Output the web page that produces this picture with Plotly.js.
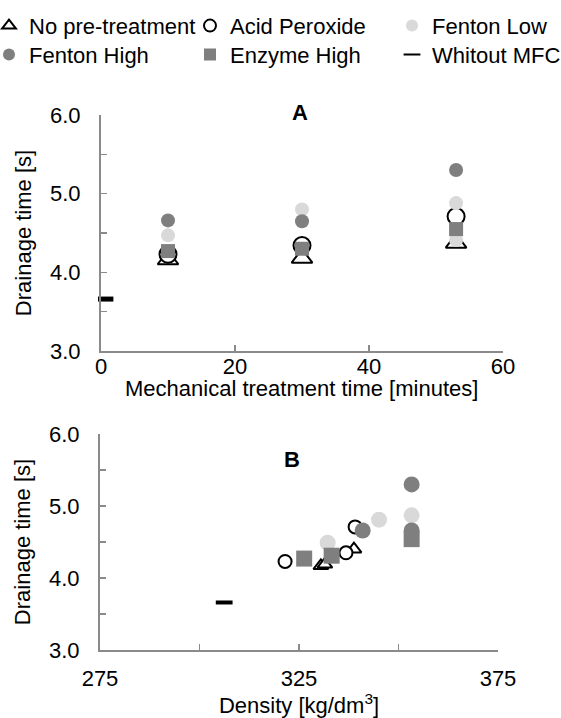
<!DOCTYPE html>
<html>
<head>
<meta charset="utf-8">
<script src="https://cdn.plot.ly/plotly-3.0.1.min.js"></script>
<style>
  html, body { margin: 0; padding: 0; background: #fff; }
  #chart { width: 561px; height: 718px; }
</style>
</head>
<body>
<div id="chart"></div>
<script>
// ---- Data ----
const seriesNames = ["No pre-treatment", "Acid Peroxide", "Fenton Low", "Fenton High", "Enzyme High", "Whitout MFC"];

// Panel A: mechanical treatment time [minutes] vs drainage time [s]
const timeNoPre = [10, 30, 53];
const drainANoPre = [4.16, 4.18, 4.37];
const timeAcid = [10, 30, 53];
const drainAAcid = [4.23, 4.34, 4.71];
const timeFentonLow = [10, 30, 53, 53];
const drainAFentonLow = [4.47, 4.80, 4.88, 4.41];
const timeFentonHigh = [10, 30, 53];
const drainAFentonHigh = [4.66, 4.65, 5.30];
const timeEnzyme = [10, 30, 53];
const drainAEnzyme = [4.27, 4.30, 4.55];
const timeWithout = [0.7];
const drainAWithout = [3.66];

// Panel B: density [kg/dm3] vs drainage time [s]
const densNoPre = [330.5, 331.5, 338.8];
const drainBNoPre = [4.17, 4.19, 4.40];
const densAcid = [321.5, 336.8, 339.1];
const drainBAcid = [4.23, 4.35, 4.71];
const densFentonLow = [332.2, 345.1, 353.3];
const drainBFentonLow = [4.49, 4.81, 4.87];
const densFentonHigh = [341, 353.3, 353.3];
const drainBFentonHigh = [4.66, 4.66, 5.30];
const densEnzyme = [326.3, 333.2, 353.3];
const drainBEnzyme = [4.27, 4.31, 4.54];
const densWithout = [306.2];
const drainBWithout = [3.66];

const panelLabels = ["A", "B"];
const xTitleA = "Mechanical treatment time [minutes]";
const xTitleB = "Density [kg/dm<sup>3</sup>]";
const yTitle = "Drainage time [s]";

// ---- Styles ----
const FONT = "Liberation Sans, Arial, sans-serif";
const AXIS = "#8a8a8a";
const DARK = "#7f7f7f";
const LIGHT = "#d9d9d9";

const styleA = [
  {symbol: "triangle-up", size: 18, color: "#ffffff", line: {color: "#000", width: 2}},
  {symbol: "circle", size: 17, color: "#ffffff", line: {color: "#000", width: 2}},
  {symbol: "circle", size: 14, color: LIGHT, line: {width: 0}},
  {symbol: "circle", size: 14, color: DARK, line: {width: 0}},
  {symbol: "square", size: 14, color: DARK, line: {width: 0}},
  {symbol: "line-ew", size: 11, color: "#000", line: {color: "#000", width: 5}}
];
const styleB = [
  {symbol: "triangle-up", size: 13, color: "#ffffff", line: {color: "#000", width: 2}},
  {symbol: "circle", size: 13, color: "#ffffff", line: {color: "#000", width: 2}},
  {symbol: "circle", size: 16, color: LIGHT, line: {width: 0}},
  {symbol: "circle", size: 16, color: DARK, line: {width: 0}},
  {symbol: "square", size: 16, color: DARK, line: {width: 0}},
  {symbol: "line-ew", size: 12, color: "#000", line: {color: "#000", width: 4}}
];
const legendOf = ["legend", "legend2", "legend3", "legend4", "legend5", "legend6"];

const aX = [timeNoPre, timeAcid, timeFentonLow, timeFentonHigh, timeEnzyme, timeWithout];
const aY = [drainANoPre, drainAAcid, drainAFentonLow, drainAFentonHigh, drainAEnzyme, drainAWithout];
const bX = [densNoPre, densAcid, densFentonLow, densFentonHigh, densEnzyme, densWithout];
const bY = [drainBNoPre, drainBAcid, drainBFentonLow, drainBFentonHigh, drainBEnzyme, drainBWithout];

const traces = [];
seriesNames.forEach((name, i) => {
  traces.push({
    type: "scatter", mode: "markers", name: name,
    x: aX[i], y: aY[i], xaxis: "x", yaxis: "y",
    marker: styleA[i], legend: legendOf[i], cliponaxis: false,
    hoverinfo: "skip"
  });
});
seriesNames.forEach((name, i) => {
  traces.push({
    type: "scatter", mode: "markers", name: name,
    x: bX[i], y: bY[i], xaxis: "x2", yaxis: "y2",
    marker: styleB[i], showlegend: false, cliponaxis: false,
    hoverinfo: "skip"
  });
});

const axisCommon = {
  showline: true, linecolor: AXIS, linewidth: 2,
  ticks: "inside", ticklen: 6, tickwidth: 1.5, tickcolor: AXIS,
  showgrid: false, zeroline: false,
  tickfont: {family: FONT, size: 22, color: "#000"},
  fixedrange: true
};
const yCommon = Object.assign({}, axisCommon, {
  range: [3, 6], tick0: 3, dtick: 1, tickformat: ".1f",
  minor: {dtick: 0.5, ticks: "inside", ticklen: 6, tickwidth: 1.5, tickcolor: AXIS, showgrid: false},
  ticklabelstandoff: 14,
  title: {text: yTitle, font: {family: FONT, size: 22, color: "#000"}, standoff: 12}
});

const legendCommon = {
  orientation: "v", xref: "paper", yref: "paper", yanchor: "top", xanchor: "left",
  itemsizing: "constant", itemwidth: 30, bgcolor: "rgba(0,0,0,0)",
  borderwidth: 0, font: {family: FONT, size: 22, color: "#000"},
  itemclick: false, itemdoubleclick: false
};
const gw = 403, gh = 535;
const row1 = 1.206, row2 = 1.206 - 29 / gh;
const col1 = (-11 - 100) / gw, col2 = (190 - 100) / gw, col3 = (392 - 100) / gw;

const layout = {
  width: 561, height: 718,
  margin: {l: 100, r: 58, t: 115, b: 68, autoexpand: false},
  paper_bgcolor: "#ffffff", plot_bgcolor: "rgba(0,0,0,0)",
  font: {family: FONT, size: 22, color: "#000"},
  showlegend: true,
  xaxis: Object.assign({}, axisCommon, {
    domain: [0.0025, 1], range: [0, 60], tick0: 0, dtick: 20, anchor: "y",
    ticklabelstandoff: -5
  }),
  yaxis: Object.assign({}, yCommon, {domain: [0.5589, 1], anchor: "x"}),
  xaxis2: Object.assign({}, axisCommon, {
    domain: [0, 0.9876], range: [275, 375], tick0: 275, dtick: 50, anchor: "y2",
    minor: {dtick: 25, ticks: "inside", ticklen: 6, tickwidth: 1.5, tickcolor: AXIS, showgrid: false},
    ticklabelstandoff: 8,
    title: {text: xTitleB, font: {family: FONT, size: 22, color: "#000"}, standoff: 16}
  }),
  yaxis2: Object.assign({}, yCommon, {domain: [0, 0.4037], anchor: "x2"}),
  legend: Object.assign({}, legendCommon, {x: col1, y: row1}),
  legend2: Object.assign({}, legendCommon, {x: col2, y: row1}),
  legend3: Object.assign({}, legendCommon, {x: col3, y: row1}),
  legend4: Object.assign({}, legendCommon, {x: col1, y: row2}),
  legend5: Object.assign({}, legendCommon, {x: col2, y: row2}),
  legend6: Object.assign({}, legendCommon, {x: col3, y: row2}),
  annotations: [
    {text: "<b>" + panelLabels[0] + "</b>", xref: "paper", yref: "paper", x: (300 - 100) / gw, y: (650 - 112.5) / gh,
     xanchor: "center", yanchor: "middle", showarrow: false, font: {family: FONT, size: 22, color: "#000"}},
    {text: "<b>" + panelLabels[1] + "</b>", xref: "paper", yref: "paper", x: (292 - 100) / gw, y: (650 - 459.7) / gh,
     xanchor: "center", yanchor: "middle", showarrow: false, font: {family: FONT, size: 22, color: "#000"}},
    {text: xTitleA, xref: "paper", yref: "paper", x: (301.5 - 100) / gw, y: (650 - 389) / gh,
     xanchor: "center", yanchor: "middle", showarrow: false, font: {family: FONT, size: 22, color: "#000"}}
  ]
};

Plotly.newPlot("chart", traces, layout, {displayModeBar: false, staticPlot: true});
</script>
</body>
</html>
